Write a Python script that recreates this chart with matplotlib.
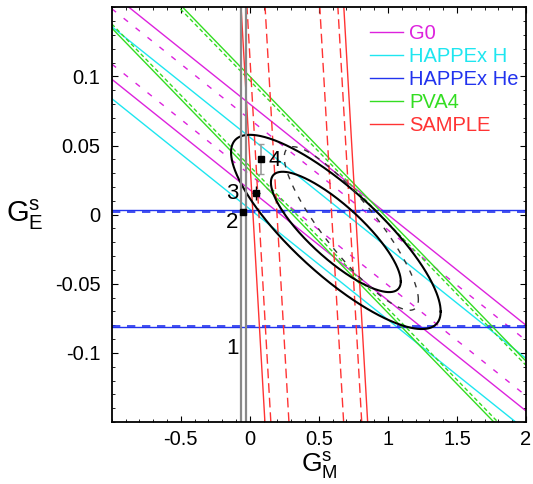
import numpy as np
import matplotlib.pyplot as plt
from matplotlib.ticker import MultipleLocator

plt.rcParams['font.family'] = ['Liberation Sans', 'DejaVu Sans']
plt.rcParams['mathtext.fontset'] = 'custom'
plt.rcParams['mathtext.rm'] = 'Liberation Sans'
plt.rcParams['mathtext.it'] = 'Liberation Sans:italic'

# constraints of the form  GE + eta*GM = c  (solid = outer error, dashed = inner error)
g0_eta = 0.080
g0_c = 0.049
g0_err_solid = 0.031
g0_err_dash = 0.020

happex_h_eta = 0.080
happex_h_c = 0.030
happex_h_err = 0.026

# HAPPEx He constrains GE only
happex_he_c = -0.039
happex_he_err_solid = 0.0425
happex_he_err_dash = 0.0412

pva4_eta = 0.103
pva4_c = 0.066
pva4_err_solid = 0.034
pva4_err_dash = 0.031

# SAMPLE:  GM + k*GE = c
sample_k = 0.575
sample_c = 0.395
sample_err_solid = 0.372
sample_err_dash = [0.329, 0.198]

# lattice band (1)
lattice_gm = [-0.066, -0.0275]

# theory points 2, 3, 4
theory_gm = [-0.047, 0.045, 0.081]
theory_ge = [0.0022, 0.0155, 0.0403]
theory_xerr = [0.0, 0.03, 0.0]
theory_yerr = [0.0, 0.005, 0.011]
theory_names = ['1', '2', '3', '4']
name_gm = [-0.125, -0.125, -0.125, 0.183]
name_ge = [-0.097, -0.0055, 0.0155, 0.0395]

# fit ellipses: centre, sigma, correlation
fit_gm, fit_ge = 0.623, -0.0125
fit_sig_gm, fit_sig_ge, fit_rho = 0.31, 0.0287, -0.82
fit_levels = [1.517, 2.448]
alt_gm, alt_ge = 0.735, -0.010
alt_sig_gm, alt_sig_ge, alt_rho = 0.32, 0.039, -0.87
alt_level = 1.517

xlim = (-1, 2)
ylim = (-0.15, 0.15)
xticks = [-0.5, 0, 0.5, 1, 1.5, 2]
xticklabels = ['-0.5', '0', '0.5', '1', '1.5', '2']
yticks = [-0.1, -0.05, 0, 0.05, 0.1]
yticklabels = ['-0.1', '-0.05', '0', '0.05', '0.1']

c_g0 = '#dd22dd'
c_hh = '#1ee6f0'
c_he = '#2233ee'
c_pva = '#33dd22'
c_sam = '#ff3333'

fig = plt.figure(figsize=(5.33, 4.84), dpi=100)
ax = fig.add_axes([0.2096, 0.1281, 0.7773, 0.8568])

gm = np.array(xlim)
ge = np.array(ylim)


def band(eta, c, err, color, ls, label=None):
    for s in (-1, 1):
        ax.plot(gm, c + s * err - eta * gm, color=color, ls=ls, lw=1.0,
                label=label if s == 1 else None)


band(g0_eta, g0_c, g0_err_solid, c_g0, '-', 'G0')
band(g0_eta, g0_c, g0_err_dash, c_g0, (0, (4, 7)))
band(happex_h_eta, happex_h_c, happex_h_err, c_hh, '-', 'HAPPEx H')

for s in (-1, 1):
    ax.axhline(happex_he_c + s * happex_he_err_solid, color=c_he, lw=1.0,
               label='HAPPEx He' if s == 1 else None)
    ax.axhline(happex_he_c + s * happex_he_err_dash, color=c_he, lw=1.2, ls=(0, (5, 4)))

band(pva4_eta, pva4_c, pva4_err_solid, c_pva, '-', 'PVA4')
band(pva4_eta, pva4_c, pva4_err_dash, c_pva, (0, (3, 2)))

for s in (-1, 1):
    ax.plot(sample_c + s * sample_err_solid - sample_k * ge, ge, color=c_sam, lw=1.0,
            label='SAMPLE' if s == 1 else None)
    for e in sample_err_dash:
        ax.plot(sample_c + s * e - sample_k * ge, ge, color=c_sam, lw=1.0, ls=(0, (7, 3.5)))

# ellipses
t = np.linspace(0, 2 * np.pi, 400)
for lev in fit_levels:
    phi = np.arccos(fit_rho)
    ax.plot(fit_gm + lev * fit_sig_gm * np.cos(t),
            fit_ge + lev * fit_sig_ge * np.cos(t - phi), color='black', lw=1.5)
phi = np.arccos(alt_rho)
ax.plot(alt_gm + alt_level * alt_sig_gm * np.cos(t),
        alt_ge + alt_level * alt_sig_ge * np.cos(t - phi), color='#333333', lw=1.0,
        ls=(0, (4, 5)))

# lattice band
for g in lattice_gm:
    ax.axvline(g, color='#888888', lw=1.6)

# theory points
ax.errorbar(theory_gm[:2], theory_ge[:2], xerr=theory_xerr[:2], yerr=theory_yerr[:2],
            fmt='s', ms=4.5, color='black', ecolor='black', elinewidth=1, capsize=0)
ax.errorbar(theory_gm[2], theory_ge[2], yerr=theory_yerr[2], fmt='s', ms=4.5,
            color='black', ecolor='#999999', elinewidth=1.2, capsize=2)
for n, x, y in zip(theory_names, name_gm, name_ge):
    ax.text(x, y, n, fontsize=16, ha='center', va='center')

ax.set_xlim(xlim)
ax.set_ylim(ylim)
ax.set_xticks(xticks)
ax.set_xticklabels(xticklabels)
ax.set_yticks(yticks)
ax.set_yticklabels(yticklabels)
ax.xaxis.set_minor_locator(MultipleLocator(0.1))
ax.yaxis.set_minor_locator(MultipleLocator(0.01))
ax.tick_params(which='both', direction='in', top=True, right=True, labelsize=14.5)
ax.tick_params(axis='y', pad=8)
ax.tick_params(axis='x', pad=6)
ax.tick_params(which='major', length=4)
ax.tick_params(which='minor', length=2.5)
for sp in ax.spines.values():
    sp.set_linewidth(1.3)

ax.set_xlabel(r'$\mathrm{G}_{\mathrm{M}}^{\mathrm{s}}$', fontsize=19, va='top')
ax.xaxis.set_label_coords(0.5, -0.068)
ax.set_ylabel(r'$\mathrm{G}_{\mathrm{E}}^{\mathrm{s}}$', fontsize=21, rotation=0,
              ha='center', va='center')
ax.yaxis.set_label_coords(-0.21, 0.5)

ax.legend(loc='upper left', bbox_to_anchor=(0.6235, 0.96), frameon=False, fontsize=14.5,
          labelcolor='linecolor', handlelength=1.65, handletextpad=0.28, labelspacing=0.2,
          borderpad=0, borderaxespad=0)

fig.savefig('out.png', dpi=100)
